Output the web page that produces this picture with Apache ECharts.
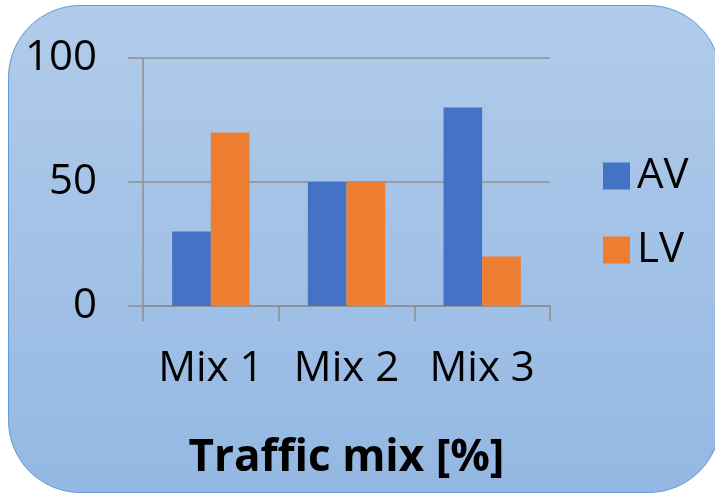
<!DOCTYPE html>
<html>
<head>
<meta charset="utf-8">
<script src="https://cdn.jsdelivr.net/npm/echarts@6/dist/echarts.min.js"></script>
<style>
  html, body { margin: 0; padding: 0; background: #ffffff; }
  #chart { width: 715px; height: 495px; }
</style>
</head>
<body>
<div id="chart"></div>
<script>
// Traffic mix shares (percent) per scenario
const categories = ['Mix 1', 'Mix 2', 'Mix 3'];
const avValues = [30, 50, 80];
const lvValues = [70, 50, 20];
const yTicks = [0, 50, 100];

const FONT = '"Open Sans", "Liberation Sans", sans-serif';
const AXIS_GRAY = '#8f8f8f';

const chart = echarts.init(document.getElementById('chart'), null, { renderer: 'canvas' });

chart.setOption({
  animation: false,
  backgroundColor: '#ffffff',
  graphic: [{
    type: 'rect',
    z: -10,
    silent: true,
    shape: { x: 8.5, y: 5.5, width: 712, height: 487, r: 72 },
    style: {
      fill: new echarts.graphic.LinearGradient(0, 0, 0, 1, [
        { offset: 0, color: '#b1cbea' },
        { offset: 1, color: '#94b8e3' }
      ]),
      stroke: '#5d9ad6',
      lineWidth: 1
    }
  }],
  grid: { left: 143, right: 165, top: 58, bottom: 189, containLabel: false, outerBoundsMode: 'none' },
  legend: {
    orient: 'vertical',
    left: 598,
    top: 150,
    itemWidth: 27,
    itemHeight: 27,
    itemGap: 32,
    icon: 'rect',
    textStyle: { fontFamily: FONT, fontSize: 42, color: '#000000', lineHeight: 42, padding: [0, 0, 0, 2] },
    data: ['AV', 'LV']
  },
  xAxis: {
    type: 'category',
    data: categories,
    boundaryGap: true,
    name: 'Traffic mix [%]',
    nameLocation: 'middle',
    nameGap: 130,
    nameTextStyle: { fontFamily: FONT, fontSize: 44, fontWeight: 'bold', color: '#000000' },
    axisLine: { show: true, lineStyle: { color: AXIS_GRAY, width: 1.5 } },
    axisTick: { show: true, length: 15, alignWithLabel: false, lineStyle: { color: AXIS_GRAY, width: 1.5 } },
    axisLabel: { interval: 0, fontFamily: FONT, fontSize: 42, color: '#000000', margin: 42, hideOverlap: false }
  },
  yAxis: {
    type: 'value',
    min: yTicks[0],
    max: yTicks[yTicks.length - 1],
    interval: yTicks[1] - yTicks[0],
    axisLine: { show: true, lineStyle: { color: AXIS_GRAY, width: 1.5 } },
    axisTick: { show: true, length: 15, lineStyle: { color: AXIS_GRAY, width: 1.5 } },
    splitLine: { show: true, lineStyle: { color: AXIS_GRAY, width: 1.5 } },
    axisLabel: { fontFamily: FONT, fontSize: 42, color: '#000000', margin: 46 }
  },
  series: [
    {
      name: 'AV',
      type: 'bar',
      data: avValues,
      barGap: '0%',
      barCategoryGap: '43%',
      itemStyle: { color: '#4472c4' }
    },
    {
      name: 'LV',
      type: 'bar',
      data: lvValues,
      barGap: '0%',
      barCategoryGap: '43%',
      itemStyle: { color: '#ed7d31' }
    }
  ]
});
</script>
</body>
</html>
